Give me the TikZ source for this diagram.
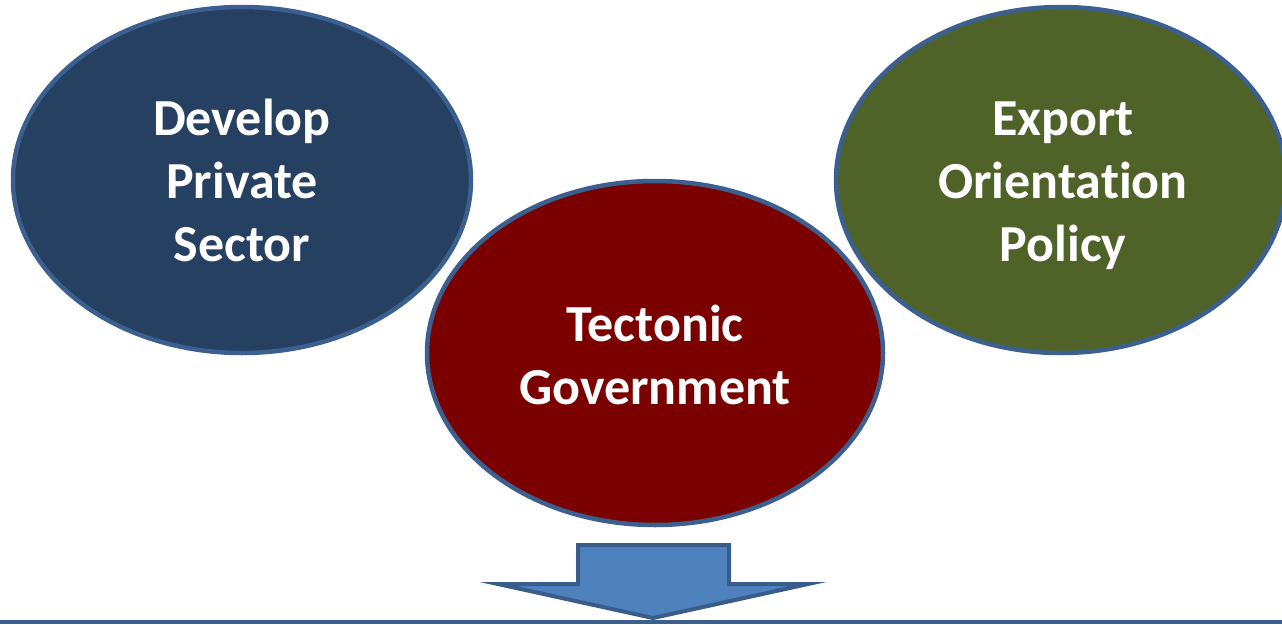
\documentclass[tikz,border=0pt]{standalone}
\usepackage{fontspec}
\setmainfont{Carlito}[Ligatures={NoCommon}]
\usetikzlibrary{shapes.geometric}
\definecolor{edge}{HTML}{3B5F8E}
\definecolor{navy}{HTML}{264061}
\definecolor{wine}{HTML}{7B0000}
\definecolor{olive}{HTML}{4F6228}
\definecolor{arrfill}{HTML}{4F81BD}
\definecolor{arredge}{HTML}{385D8A}
\tikzset{
  blob/.style={ellipse, draw=edge, line width=4.5pt, inner sep=0pt},
  lbl/.style={text=white, font=\fontsize{52}{63}\selectfont\bfseries, align=center, inner sep=0pt},
}
\begin{document}
\begin{tikzpicture}[x=1pt,y=-1pt]
\useasboundingbox (0,0) rectangle (1282,624);
\fill[white] (0,0) rectangle (1282,624);
\node[blob, fill=navy, minimum width=458pt, minimum height=346pt] (dev) at (242,180) {};
\node[lbl] (devt) at (242,180) {Develop\\Private\\Sector};
\node[blob, fill=olive, minimum width=450pt, minimum height=346pt] (exp) at (1061,180) {};
\node[lbl] (expt) at (1063,186) {Export\\Orientation\\Policy};
\node[blob, fill=wine, minimum width=456pt, minimum height=344pt] (tec) at (655,353) {};
\node[lbl] (tect) at (655,355) {Tectonic\\Government};
\coordinate (tip) at (653,618);
\draw[fill=arrfill, draw=arredge, line width=4pt, line join=miter]
  (578,545) -- (729,545) -- (729,584) -- (808,584) -- (tip) -- (498,584) -- (578,584) -- cycle;
\coordinate (l0) at (0,622);
\coordinate (l1) at (1282,622);
\draw[edge, line width=4pt] (l0) -- (l1);
\end{tikzpicture}
\end{document}
